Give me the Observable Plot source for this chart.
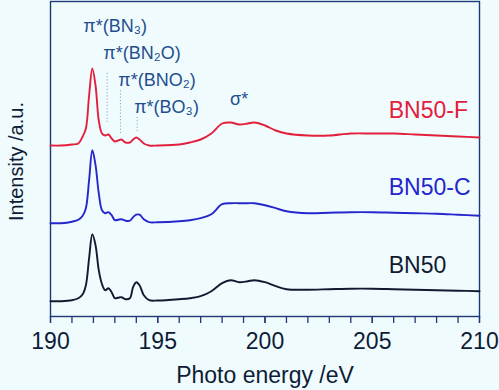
<!DOCTYPE html>
<html>
<head>
<meta charset="utf-8">
<script src="https://cdn.jsdelivr.net/npm/d3@7"></script>
<script src="https://cdn.jsdelivr.net/npm/@observablehq/plot@0.6"></script>
<style>
  html, body { margin: 0; padding: 0; background: #f0fbfe; }
  #chart svg { display: block; }
</style>
</head>
<body>
<div id="chart"></div>
<script>
// Photon energy grid (eV)
const energy = [190, 190.5, 191, 191.3, 191.5, 191.65, 191.8, 191.95, 192.1, 192.25, 192.4, 192.55, 192.7, 192.85, 193.0, 193.15, 193.3, 193.5, 193.7, 193.85, 194.0, 194.15, 194.35, 194.6, 195, 196, 196.5, 197, 197.5, 198, 198.4, 198.8, 199.2, 199.5, 200, 200.5, 201, 202, 203, 204, 205, 206, 207, 208, 209, 210];

// Intensities (a.u.) above each spectrum's own baseline
const bn50F = [0, 0, 1, 2, 9, 17, 50, 77, 60, 25, 12, 10, 11, 7, 4, 5, 6, 3, 3, 6, 8, 6, 2, 0, 0, 1, 3, 6, 12, 22, 23, 21, 22, 23, 20, 15, 12, 10, 10, 12, 12, 12, 11, 10, 9, 8];
const bn50C = [0, 0, 1.5, 3.5, 7.5, 15, 43, 73, 58, 30, 13, 10, 11, 8, 3, 3.5, 4, 2.5, 2.5, 6, 8.5, 8.5, 4, 1, 1, 2, 3, 5, 9, 19, 20, 20, 20, 20, 18, 15, 12, 10, 10.5, 11, 11, 10.5, 10, 9.5, 8.5, 7.5];
const bn50  = [0, 0, 1, 3, 7, 16, 43, 67, 56, 31, 17, 11, 13, 9, 3, 3.5, 4, 2, 3, 14, 19, 16, 6, 1, 0.7, 2, 3, 5, 10, 18, 21, 19, 20, 21, 19, 15, 12, 11.5, 12, 12.5, 12.5, 12, 11.5, 11, 10.5, 10];

// Series names, vertical offsets (stacking), colours
const seriesNames = ["BN50-F", "BN50-C", "BN50"];
const seriesOffsets = [171, 93.3, 15.3];
const seriesColors = ["#e2203c", "#2626cc", "#121a30"];
const seriesValues = [bn50F, bn50C, bn50];

// Peak assignment labels
const peakLabels = ["π*(BN₃)", "π*(BN₂O)", "π*(BNO₂)", "π*(BO₃)", "σ*"];
const peakLabelX = [191.53, 192.46, 193.16, 193.9, 198.37];
const peakLabelY = [285, 258, 231, 204, 212];

// Dotted guide lines
const guideX = [192.64, 193.26, 194.04];
const guideY1 = [194, 183, 185];
const guideY2 = [244, 226, 199];

const xTicksMajor = [190, 195, 200, 205, 210];
const xTicksMinor = d3.range(190, 211, 1);

const lineData = seriesNames.flatMap((name, i) =>
  energy.map((e, j) => ({ name, x: e, y: seriesOffsets[i] + seriesValues[i][j] }))
);
const seriesLabelData = seriesNames.map((name, i) => ({
  name, x: 205.77, y: seriesOffsets[i] + 28, color: seriesColors[i]
}));
const peakData = peakLabels.map((t, i) => ({ t, x: peakLabelX[i], y: peakLabelY[i] }));
const guideData = guideX.map((x, i) => ({ x, y1: guideY1[i], y2: guideY2[i] }));

const font = "Liberation Sans, Arial, Helvetica, sans-serif";
const axisColor = "#1c3a78";

const chart = Plot.plot({
  width: 499,
  height: 390,
  marginLeft: 50,
  marginRight: 20,
  marginTop: 1,
  marginBottom: 74,
  style: { background: "#f0fbfe", fontFamily: font, overflow: "visible" },
  x: { domain: [190, 210] },
  y: { domain: [0, 315], axis: null },
  marks: [
    Plot.frame({ stroke: axisColor, strokeWidth: 1.4 }),
    Plot.axisX({ ticks: xTicksMinor, tickSize: 7, text: null, stroke: axisColor, strokeWidth: 1.3, label: null }),
    Plot.axisX({ ticks: xTicksMajor, tickSize: 7, tickPadding: 9, fontSize: 23, fill: "#0f1c36", stroke: axisColor, strokeWidth: 1.3, label: null, tickFormat: d3.format("d") }),
    Plot.text(["Photo energy /eV"], { frameAnchor: "bottom", dy: 66, lineAnchor: "bottom", fontSize: 23, fill: "#0f1c36" }),
    Plot.text([{ x: 190, y: 155, t: "Intensity /a.u." }], { x: "x", y: "y", text: "t", rotate: -90, dx: -28, textAnchor: "middle", lineAnchor: "bottom", fontSize: 20, fill: "#0f1c36" }),
    Plot.ruleX(guideData, { x: "x", y1: "y1", y2: "y2", stroke: "#8aa6c8", strokeWidth: 1, strokeDasharray: "1.2,2" }),
    ...seriesNames.map((name, i) =>
      Plot.line(lineData.filter(d => d.name === name), {
        x: "x", y: "y", stroke: seriesColors[i], strokeWidth: 1.9, curve: "catmull-rom"
      })
    ),
    Plot.text(seriesLabelData, { x: "x", y: "y", text: "name", fill: "color", textAnchor: "start", lineAnchor: "bottom", fontSize: 23 }),
    Plot.text(peakData, { x: "x", y: "y", text: "t", fill: "#1f4f8f", textAnchor: "start", lineAnchor: "bottom", fontSize: 18 })
  ]
});
document.getElementById("chart").appendChild(chart);
</script>
</body>
</html>
